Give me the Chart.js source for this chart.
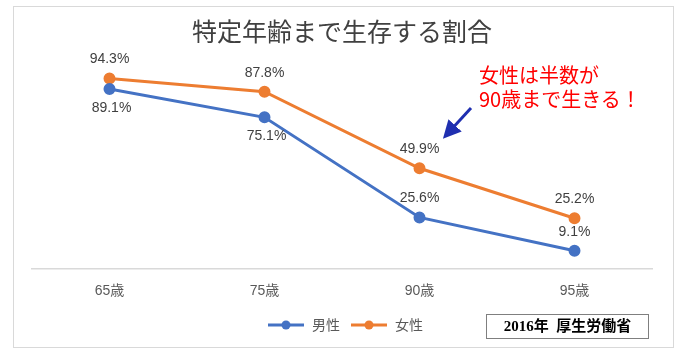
<!DOCTYPE html>
<html>
<head>
<meta charset="utf-8">
<script src="https://cdn.jsdelivr.net/npm/chart.js@4/dist/chart.umd.min.js"></script>
<style>
  html, body { margin: 0; padding: 0; background: #fff; }
  #wrap { position: relative; width: 683px; height: 358px; }
  #c { position: absolute; left: 0; top: 0; }
  #frame { position: absolute; left: 13px; top: 6px; width: 659px; height: 340px; border: 1px solid #d9d9d9; pointer-events: none; }
  #note { position: absolute; left: 479px; top: 63px; color: #ff0000; font: 20px "Noto Sans CJK JP", sans-serif; line-height: 24px; white-space: nowrap; }
  #src { position: absolute; left: 486px; top: 314px; width: 161px; height: 23px; border: 1.5px solid #7f7f7f; font: bold 15px "Liberation Serif", "Noto Sans CJK JP", serif; color: #000; line-height: 23px; text-align: center; white-space: pre; }
  #arrow { position: absolute; left: 0; top: 0; pointer-events: none; }
</style>
</head>
<body>
<div id="wrap">
  <canvas id="c" width="683" height="358"></canvas>
  <div id="frame"></div>
  <div id="note">女性は半数が<br>90歳まで生きる！</div>
  <svg id="arrow" width="683" height="358">
    <defs>
      <marker id="ah" markerWidth="6" markerHeight="6" refX="3" refY="3" orient="auto">
        <path d="M0,0 L6,3 L0,6 Z" fill="#1f2fb0"/>
      </marker>
    </defs>
    <line x1="471" y1="108" x2="449" y2="132" stroke="#1f2fb0" stroke-width="3" marker-end="url(#ah)"/>
  </svg>
  <div id="src">2016年  厚生労働省</div>
</div>
<script>
const categories = ['65歳', '75歳', '90歳', '95歳'];
const male = [89.1, 75.1, 25.6, 9.1];
const female = [94.3, 87.8, 49.9, 25.2];
const seriesNames = ['男性', '女性'];
const maleLabelSide = [1, 1, -1, -1];   // 1 = below point, -1 = above
const femaleLabelSide = [-1, -1, -1, -1];

const BLUE = '#4472C4';
const ORANGE = '#ED7D31';

function legendIcon(color) {
  const cv = document.createElement('canvas');
  cv.width = 44; cv.height = 12;
  const x = cv.getContext('2d');
  x.strokeStyle = color; x.lineWidth = 3;
  x.beginPath(); x.moveTo(7, 6); x.lineTo(43, 6); x.stroke();
  x.fillStyle = color;
  x.beginPath(); x.arc(25, 6, 4.5, 0, Math.PI * 2); x.fill();
  return cv;
}

const dataLabels = {
  id: 'dataLabels',
  afterDatasetsDraw(chart) {
    const ctx = chart.ctx;
    ctx.save();
    ctx.font = '14px "Liberation Sans", Arial, sans-serif';
    ctx.fillStyle = '#404040';
    ctx.textAlign = 'center';
    ctx.textBaseline = 'middle';
    const sides = [maleLabelSide, femaleLabelSide];
    chart.data.datasets.forEach((ds, di) => {
      const meta = chart.getDatasetMeta(di);
      meta.data.forEach((pt, i) => {
        const side = sides[di][i];
        ctx.fillText(ds.data[i].toFixed(1) + '%', pt.x + (side > 0 ? 2 : 0), pt.y + side * 19);
      });
    });
    ctx.restore();
  }
};

new Chart(document.getElementById('c'), {
  type: 'line',
  data: {
    labels: categories,
    datasets: [
      { label: seriesNames[0], data: male, borderColor: BLUE, backgroundColor: BLUE,
        borderWidth: 3, pointRadius: 4.5, pointBackgroundColor: BLUE, pointBorderColor: BLUE, tension: 0 },
      { label: seriesNames[1], data: female, borderColor: ORANGE, backgroundColor: ORANGE,
        borderWidth: 3, pointRadius: 4.5, pointBackgroundColor: ORANGE, pointBorderColor: ORANGE, tension: 0 }
    ]
  },
  options: {
    responsive: false,
    animation: false,
    events: [],
    layout: { padding: { left: 32, right: 31, top: 0, bottom: 16 } },
    scales: {
      x: {
        offset: true,
        grid: { display: false, drawTicks: false },
        border: { display: true, color: '#d9d9d9', width: 1.5 },
        ticks: { color: '#595959', font: { size: 14, family: '"Liberation Sans", Arial, "Noto Sans CJK JP", sans-serif' }, padding: 14 }
      },
      y: {
        display: false,
        min: 0,
        max: 100
      }
    },
    plugins: {
      title: {
        display: true,
        text: '特定年齢まで生存する割合',
        color: '#404040',
        font: { size: 25, weight: 'normal', family: '"Noto Sans CJK JP", sans-serif' },
        padding: { top: 16, bottom: 21 }
      },
      legend: {
        display: true,
        position: 'bottom',
        labels: {
          color: '#595959',
          font: { size: 14, family: '"Noto Sans CJK JP", sans-serif' },
          usePointStyle: true,
          pointStyleWidth: 44,
          padding: 4,
          generateLabels(chart) {
            return chart.data.datasets.map((ds, i) => ({
              text: ds.label,
              pointStyle: legendIcon(ds.borderColor),
              fillStyle: ds.borderColor,
              strokeStyle: ds.borderColor,
              fontColor: '#595959',
              lineWidth: 0,
              hidden: false,
              datasetIndex: i
            }));
          }
        }
      },
      tooltip: { enabled: false }
    }
  },
  plugins: [dataLabels]
});
</script>
</body>
</html>
